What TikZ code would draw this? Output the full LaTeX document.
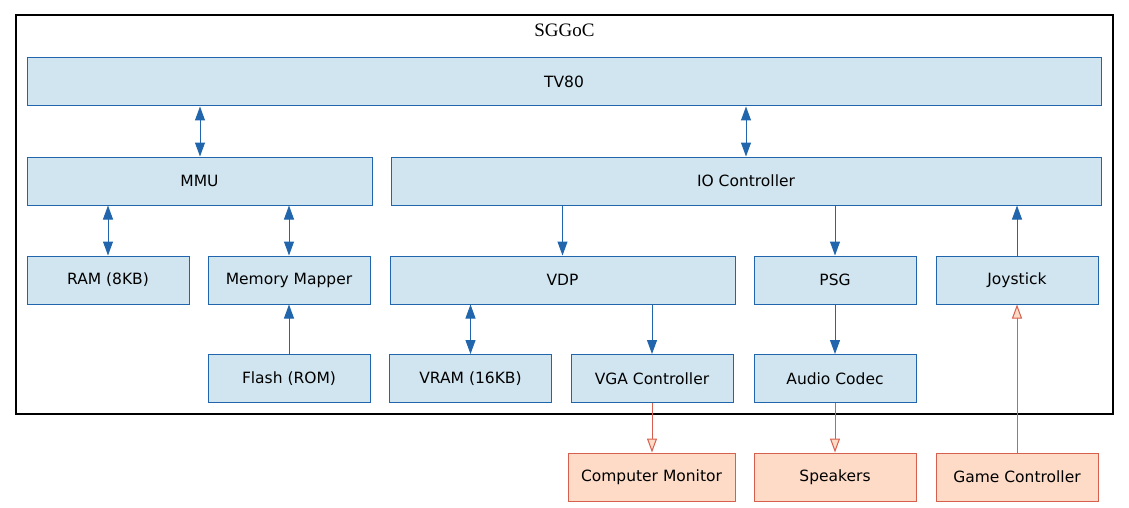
\documentclass[tikz,border=0pt]{standalone}
\usepackage{fontspec}
\setmainfont{DejaVu Sans}
\newfontfamily\titlefont{Liberation Serif}
\usetikzlibrary{arrows.meta}
\definecolor{bluefill}{RGB}{209,229,240}
\definecolor{blueline}{RGB}{33,102,172}
\definecolor{redfill}{RGB}{253,219,199}
\definecolor{redline}{RGB}{214,96,77}
\tikzset{
	part/.style={draw=blueline, fill=bluefill, line width=1pt, minimum height=48pt, inner sep=0pt, font=\fontsize{15.5}{18}\selectfont},
	extpart/.style={part, draw=redline, fill=redfill},
	link/.style={draw=blueline, line width=1pt, -{Triangle[length=14pt,width=10pt]}},
	duplex/.style={link, {Triangle[length=14pt,width=10pt]}-{Triangle[length=14pt,width=10pt]}},
	extlink/.style={draw=redline, line width=1pt, -{Triangle[open,length=14pt,width=10pt,fill=redfill]}}
}
\begin{document}
\begin{tikzpicture}[x=1pt, y=-1pt]
			\useasboundingbox (0,0) rectangle (1129,508);
			\draw[black, line width=1.1pt] (16,15) rectangle (1113,414);
			\node (title) at (564.5,30) {\titlefont\fontsize{19}{22}\selectfont SGGoC};
			\node[part, minimum width=1074pt] (tv) at (564,82) {TV80};
			\node[part, minimum width=345pt] (mmu) at (199.5,181) {MMU};
			\node[part, minimum width=710pt] (io) at (746,181) {IO Controller};
			\node[part, minimum width=162pt] (ram) at (108,280) {RAM (8KB)};
			\node[part, minimum width=162pt] (mapper) at (289,280) {Memory Mapper};
			\node[part, minimum width=345pt] (vdp) at (562.5,280) {VDP};
			\node[part, minimum width=162pt] (psg) at (835,280) {PSG};
			\node[part, minimum width=162pt] (joy) at (1017,280) {Joystick};
			\node[part, minimum width=162pt] (flash) at (289,378.5) {Flash (ROM)};
			\node[part, minimum width=162pt] (vram) at (470.5,378.5) {VRAM (16KB)};
			\node[part, minimum width=162pt] (vga) at (652,378.5) {VGA Controller};
			\node[part, minimum width=162pt] (codec) at (835,378.5) {Audio Codec};
			\node[extpart, minimum width=167pt] (monitor) at (651.5,477) {Computer Monitor};
			\node[extpart, minimum width=162pt] (speakers) at (835,477) {Speakers};
			\node[extpart, minimum width=162pt] (gamepad) at (1017,477) {Game Controller};
			\draw[duplex] (tv.south -| 200,0) -- (mmu.north -| 200,0);
			\draw[duplex] (tv.south -| io.north) -- (io.north);
			\draw[duplex] (mmu.south -| ram.north) -- (ram.north);
			\draw[duplex] (mmu.south -| mapper.north) -- (mapper.north);
			\draw[link] (io.south -| vdp.north) -- (vdp.north);
			\draw[link] (io.south -| psg.north) -- (psg.north);
			\draw[link] (joy.north) -- (io.south -| joy.north);
			\draw[link] (flash.north) -- (mapper.south);
			\draw[duplex] (vdp.south -| vram.north) -- (vram.north);
			\draw[link] (vdp.south -| vga.north) -- (vga.north);
			\draw[link] (psg.south) -- (codec.north);
			\draw[extlink] (vga.south) -- (vga.south |- monitor.north);
			\draw[extlink] (codec.south) -- (speakers.north);
			\draw[extlink] (gamepad.north) -- (joy.south);
		\end{tikzpicture}
\end{document}
